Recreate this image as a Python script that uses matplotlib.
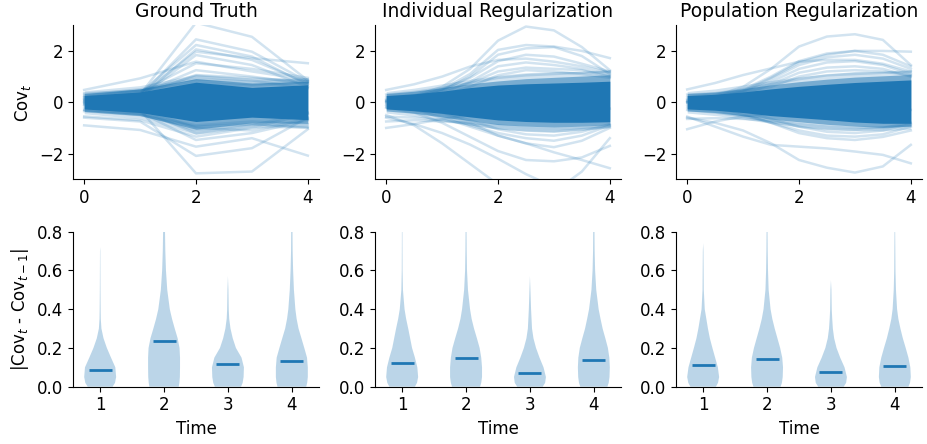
import numpy as np
import matplotlib.pyplot as plt

titles = ['Ground Truth', 'Individual Regularization', 'Population Regularization']

# ---- top row: Cov_t trajectories ----
gt_t = [0, 1, 2, 3, 4]
reg_t = [0, 0.5, 1, 1.5, 2, 2.5, 3, 3.5, 4]

# dense core of the trajectories (solid), its fringe and a faint halo
gt_core_hi = [0.26, 0.40, 0.78, 0.58, 0.68]
gt_core_lo = [-0.26, -0.40, -0.75, -0.58, -0.68]
gt_band_hi = [0.34, 0.52, 0.92, 0.75, 0.82]
gt_band_lo = [-0.36, -0.52, -1.05, -0.80, -0.82]
gt_halo_hi = [0.45, 0.65, 1.10, 0.95, 0.95]
gt_halo_lo = [-0.45, -0.65, -1.25, -1.00, -1.00]

ir_core_hi = [0.26, 0.33, 0.43, 0.57, 0.67, 0.72, 0.75, 0.78, 0.82]
ir_core_lo = [-0.26, -0.33, -0.43, -0.57, -0.69, -0.75, -0.78, -0.78, -0.76]
ir_band_hi = [0.34, 0.43, 0.57, 0.72, 0.83, 0.92, 0.97, 1.02, 1.07]
ir_band_lo = [-0.34, -0.43, -0.57, -0.72, -0.87, -0.93, -0.97, -0.93, -0.88]
ir_halo_hi = [0.42, 0.55, 0.72, 0.90, 1.05, 1.15, 1.20, 1.20, 1.25]
ir_halo_lo = [-0.42, -0.55, -0.72, -0.90, -1.05, -1.12, -1.15, -1.10, -1.00]

pr_core_hi = [0.26, 0.31, 0.40, 0.52, 0.62, 0.70, 0.77, 0.82, 0.87]
pr_core_lo = [-0.26, -0.31, -0.40, -0.52, -0.60, -0.68, -0.77, -0.82, -0.82]
pr_band_hi = [0.34, 0.40, 0.53, 0.68, 0.80, 0.90, 0.98, 1.03, 1.08]
pr_band_lo = [-0.34, -0.40, -0.53, -0.66, -0.76, -0.86, -0.93, -0.98, -0.93]
pr_halo_hi = [0.42, 0.52, 0.68, 0.85, 1.00, 1.10, 1.20, 1.20, 1.25]
pr_halo_lo = [-0.42, -0.52, -0.66, -0.82, -0.95, -1.05, -1.10, -1.12, -1.05]

# individual (faint) trajectories outside the core
gt_lines = [
    [0.10, 0.30, 3.10, 2.55, 0.85],
    [0.05, 0.25, 2.45, 1.97, 0.80],
    [0.15, 0.35, 2.23, 1.78, 0.68],
    [0.00, 0.20, 2.06, 1.65, 0.75],
    [0.10, 0.30, 1.97, 1.72, 1.52],
    [-0.05, 0.20, 1.84, 1.45, 0.60],
    [0.48, 0.93, 1.58, 1.20, 0.87],
    [0.20, 0.40, 1.52, 1.30, 0.95],
    [0.10, 0.35, 1.25, 1.00, 0.70],
    [0.00, 0.30, 1.06, 0.95, 0.80],
    [0.20, 0.45, 1.00, 0.85, 0.55],
    [0.30, 0.50, 0.90, 0.80, 0.88],
    [0.25, 0.45, 0.85, 0.70, 0.80],
    [-0.90, -1.08, -1.73, -1.40, -2.08],
    [-0.10, -0.30, -2.77, -2.70, -1.05],
    [-0.60, -0.75, -2.09, -1.79, -0.60],
    [-0.20, -0.40, -1.47, -1.20, -0.70],
    [-0.55, -0.70, -1.34, -1.00, -0.45],
    [0.00, -0.30, -1.21, -0.90, -0.40],
    [-0.30, -0.45, -1.10, -0.85, -0.95],
    [-0.10, -0.25, -1.00, -1.10, -0.65],
    [-0.35, -0.50, -0.95, -0.85, -1.00],
    [-0.30, -0.45, -0.90, -0.75, -0.85],
    [0.35, 0.45, 0.75, 0.65, 0.75],
]

ir_lines = [
    [0.10, 0.25, 0.60, 1.30, 2.40, 2.95, 2.80, 2.15, 1.25],
    [0.05, 0.20, 0.50, 1.10, 2.04, 2.23, 2.17, 2.00, 1.72],
    [0.00, 0.15, 0.45, 1.00, 1.85, 2.10, 2.15, 1.80, 1.10],
    [0.10, 0.20, 0.50, 0.95, 1.60, 1.85, 1.78, 1.50, 1.20],
    [0.48, 0.70, 1.00, 1.39, 1.65, 1.70, 1.58, 1.40, 1.15],
    [0.00, 0.15, 0.35, 0.80, 1.40, 1.55, 1.45, 1.30, 1.05],
    [0.20, 0.30, 0.45, 0.75, 1.20, 1.35, 1.30, 1.25, 1.00],
    [0.05, 0.10, 0.30, 0.60, 1.05, 1.25, 1.20, 1.10, 0.95],
    [0.30, 0.40, 0.55, 0.75, 0.95, 1.05, 1.10, 1.15, 1.20],
    [-0.60, -0.85, -1.20, -1.65, -2.20, -2.80, -3.30, -3.70, -4.00],
    [-0.10, -0.30, -0.60, -0.95, -1.30, -1.60, -1.95, -2.25, -2.57],
    [-0.20, -0.40, -0.80, -1.35, -1.90, -2.25, -2.30, -2.15, -1.70],
    [-0.50, -0.90, -1.60, -2.40, -3.20, -3.80, -3.50, -2.70, -1.40],
    [-0.10, -0.20, -0.40, -0.80, -1.30, -1.60, -1.75, -1.50, -1.00],
    [-0.20, -0.30, -0.50, -0.90, -1.20, -1.40, -1.50, -1.30, -0.90],
    [0.00, -0.15, -0.40, -0.70, -1.05, -1.25, -1.30, -1.15, -0.85],
    [-1.00, -0.85, -0.65, -0.50, -0.40, -0.35, -0.30, -0.30, -0.25],
    [-0.56, -0.60, -0.70, -0.85, -1.00, -1.10, -1.15, -1.05, -0.95],
    [-0.75, -0.70, -0.75, -0.80, -0.90, -1.00, -1.05, -1.00, -0.92],
]

pr_lines = [
    [0.10, 0.25, 0.60, 1.30, 2.17, 2.56, 2.65, 2.43, 1.45],
    [0.00, 0.20, 0.50, 1.00, 1.60, 1.90, 2.00, 2.00, 1.97],
    [0.05, 0.20, 0.45, 0.95, 1.55, 1.85, 2.00, 1.85, 1.40],
    [0.00, 0.15, 0.40, 0.90, 1.45, 1.75, 1.85, 1.70, 1.30],
    [0.50, 0.75, 1.06, 1.32, 1.58, 1.65, 1.65, 1.50, 1.20],
    [0.10, 0.20, 0.40, 0.80, 1.30, 1.55, 1.60, 1.45, 1.10],
    [0.00, 0.10, 0.30, 0.70, 1.15, 1.35, 1.40, 1.30, 1.00],
    [0.20, 0.30, 0.40, 0.60, 1.00, 1.20, 1.25, 1.20, 1.05],
    [0.30, 0.35, 0.50, 0.70, 0.90, 1.05, 1.10, 1.15, 1.20],
    [-0.56, -0.95, -1.34, -1.66, -1.73, -1.80, -1.92, -2.05, -2.38],
    [-0.60, -0.80, -1.10, -1.60, -2.25, -2.55, -2.74, -2.50, -1.66],
    [-1.05, -0.75, -0.55, -0.45, -0.40, -0.40, -0.35, -0.30, -0.30],
    [-0.10, -0.20, -0.45, -0.80, -1.20, -1.40, -1.47, -1.35, -1.10],
    [-0.20, -0.30, -0.50, -0.80, -1.10, -1.30, -1.34, -1.25, -0.95],
    [0.00, -0.15, -0.35, -0.65, -0.95, -1.15, -1.20, -1.10, -0.85],
    [-0.30, -0.40, -0.55, -0.75, -0.95, -1.05, -1.08, -1.00, -0.80],
    [-0.65, -0.62, -0.65, -0.72, -0.85, -0.95, -1.00, -0.98, -0.90],
]

# ---- bottom row: |Cov_t - Cov_{t-1}| violins ----
steps = [1, 2, 3, 4]
levels = [0.0, 0.02, 0.05, 0.1, 0.15, 0.2, 0.25, 0.3, 0.35, 0.4, 0.5, 0.6, 0.7, 0.8, 0.9]

gt_medians = [0.086, 0.237, 0.115, 0.131]
gt_tops = [0.72, 0.95, 0.57, 0.95]
gt_shapes = [
    [0.78, 0.93, 1.0, 0.95, 0.68, 0.42, 0.21, 0.08, 0.04, 0.03, 0.02, 0.015, 0.01],
    [0.92, 0.96, 0.99, 1.0, 1.0, 0.97, 0.85, 0.67, 0.5, 0.36, 0.2, 0.12, 0.08, 0.06, 0.04],
    [0.82, 0.92, 0.98, 1.0, 0.85, 0.5, 0.3, 0.16, 0.08, 0.05, 0.03],
    [0.9, 0.96, 1.0, 1.0, 0.95, 0.78, 0.6, 0.42, 0.3, 0.22, 0.13, 0.08, 0.05, 0.04, 0.03],
]

ir_medians = [0.122, 0.148, 0.069, 0.136]
ir_tops = [0.95, 0.95, 0.57, 0.95]
ir_shapes = [
    [0.8, 0.93, 1.0, 0.95, 0.8, 0.62, 0.5, 0.38, 0.25, 0.15, 0.05, 0.025, 0.02, 0.015, 0.01],
    [0.88, 0.95, 1.0, 1.0, 0.95, 0.85, 0.68, 0.5, 0.35, 0.25, 0.12, 0.06, 0.04, 0.03, 0.02],
    [0.8, 0.95, 1.0, 0.85, 0.6, 0.38, 0.22, 0.13, 0.1, 0.07, 0.03],
    [0.85, 0.93, 0.98, 1.0, 0.97, 0.88, 0.72, 0.55, 0.42, 0.3, 0.15, 0.08, 0.05, 0.04, 0.03],
]

pr_medians = [0.110, 0.143, 0.074, 0.105]
pr_tops = [0.74, 0.95, 0.55, 0.95]
pr_shapes = [
    [0.8, 0.93, 1.0, 0.92, 0.75, 0.58, 0.42, 0.3, 0.2, 0.1, 0.04, 0.03, 0.02],
    [0.85, 0.93, 0.98, 1.0, 0.95, 0.82, 0.65, 0.48, 0.33, 0.22, 0.1, 0.06, 0.04, 0.03, 0.02],
    [0.8, 0.95, 1.0, 0.85, 0.58, 0.35, 0.2, 0.12, 0.08, 0.05, 0.03],
    [0.85, 0.95, 1.0, 0.97, 0.85, 0.68, 0.5, 0.35, 0.22, 0.14, 0.07, 0.04, 0.03, 0.02, 0.02],
]

top_data = [
    (gt_t, gt_core_lo, gt_core_hi, gt_band_lo, gt_band_hi, gt_halo_lo, gt_halo_hi, gt_lines),
    (reg_t, ir_core_lo, ir_core_hi, ir_band_lo, ir_band_hi, ir_halo_lo, ir_halo_hi, ir_lines),
    (reg_t, pr_core_lo, pr_core_hi, pr_band_lo, pr_band_hi, pr_halo_lo, pr_halo_hi, pr_lines),
]
bottom_data = [
    (gt_shapes, gt_tops, gt_medians),
    (ir_shapes, ir_tops, ir_medians),
    (pr_shapes, pr_tops, pr_medians),
]

C0 = '#1f77b4'
plt.rcParams['font.size'] = 12
plt.rcParams['xtick.labelsize'] = 12
plt.rcParams['ytick.labelsize'] = 12

W, H = 927, 444
fig = plt.figure(figsize=(W / 100, H / 100), dpi=100)
lefts = [73, 375, 676]
width = 246

for i in range(3):
    # top panel
    ax = fig.add_axes([lefts[i] / W, (H - 179.25) / H, width / W, 154 / H])
    t, clo, chi, blo, bhi, hlo, hhi, lines = top_data[i]
    ax.fill_between(t, hlo, hhi, color=C0, alpha=0.2, lw=0)
    ax.fill_between(t, blo, bhi, color=C0, alpha=0.5, lw=0)
    ax.fill_between(t, clo, chi, color=C0, alpha=1.0, lw=0)
    for ln in lines:
        ax.plot(t, ln, color=C0, alpha=0.2, lw=1.8)
    ax.set_xlim(-0.2, 4.2)
    ax.set_ylim(-3, 3)
    ax.set_xticks([0, 2, 4])
    ax.set_yticks([-2, 0, 2])
    ax.set_title(titles[i], fontsize=13.5)
    ax.spines['top'].set_visible(False)
    ax.spines['right'].set_visible(False)
    if i == 0:
        ax.set_ylabel('Cov$_t$')

    # bottom panel
    ax = fig.add_axes([lefts[i] / W, (H - 386.7) / H, width / W, 155 / H])
    shapes, tops, meds = bottom_data[i]
    stats = []
    for shp, top, med in zip(shapes, tops, meds):
        coords = [lv for lv in levels[:len(shp)] if lv < top] + [top]
        vals = shp[:len(coords) - 1] + [0.0]
        stats.append({'coords': np.array(coords), 'vals': np.array(vals),
                      'mean': med, 'median': med, 'min': 0.0, 'max': top})
    parts = ax.violin(stats, positions=steps, widths=0.5, showmeans=False,
                      showextrema=False, showmedians=False)
    for body in parts['bodies']:
        body.set_facecolor(C0)
        body.set_edgecolor('none')
        body.set_alpha(0.3)
    ax.hlines(meds, np.array(steps) - 0.18, np.array(steps) + 0.18, color=C0, lw=2)
    ax.set_xlim(0.575, 4.425)
    ax.set_ylim(0, 0.8)
    ax.set_xticks(steps)
    ax.set_yticks([0.0, 0.2, 0.4, 0.6, 0.8])
    ax.set_xlabel('Time')
    ax.spines['top'].set_visible(False)
    ax.spines['right'].set_visible(False)
    if i == 0:
        ax.set_ylabel('|Cov$_t$ - Cov$_{t-1}$|')

fig.savefig('out.png', dpi=100)
